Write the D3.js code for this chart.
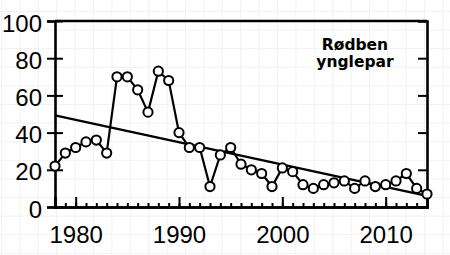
<!DOCTYPE html>
<html>
<head>
<meta charset="utf-8">
<script src="https://cdn.jsdelivr.net/npm/d3@7"></script>
<style>
  body { margin: 0; background: #fff; }
  svg { display: block; }
  .tick text { font-family: "Liberation Sans", Arial, sans-serif; font-size: 24px; fill: #000; }
</style>
</head>
<body>
<div id="chart"></div>
<script>
    // rødben ynglepar per year
    var years = d3.range(1978, 2015);
    var pairs = [22, 29, 32, 35, 36, 29, 70, 70, 63, 51, 73, 68, 40, 32, 32, 11, 28, 32, 23,
                 20, 18, 11, 21, 19, 12, 10, 12, 13, 14, 10, 14, 11, 12, 14, 18, 10, 7];
    var yTicks = [0, 20, 40, 60, 80, 100];
    var xTicks = [1980, 1990, 2000, 2010];
    var legendLines = ["Rødben", "ynglepar"];

    var W = 450, H = 255;
    var m = { top: 21, right: 23, bottom: 48, left: 55 };

    var svg = d3.select("#chart").append("svg").attr("width", W).attr("height", H);

    // faint paper grid in background
    var grid = svg.append("g");
    grid.selectAll(".gx").data(d3.range(1.5, W, 18.4)).enter().append("line")
        .attr("x1", function (d) { return d; }).attr("x2", function (d) { return d; })
        .attr("y1", 0).attr("y2", H);
    grid.selectAll(".gy").data(d3.range(11.5, H, 18.6)).enter().append("line")
        .attr("y1", function (d) { return d; }).attr("y2", function (d) { return d; })
        .attr("x1", 0).attr("x2", W);
    grid.selectAll("line").attr("stroke", "#f2f2f2").attr("stroke-width", 1);

    var x = d3.scaleLinear().domain([1978, 2014]).range([m.left, W - m.right]);
    var y = d3.scaleLinear().domain([0, 100]).range([H - m.bottom, m.top]);

    // left axis, ticks crossing the line
    var gl = svg.append("g").attr("transform", "translate(" + m.left + ",0)")
        .call(d3.axisLeft(y).tickValues(yTicks).tickSize(8).tickPadding(5));
    gl.selectAll(".tick line").attr("x1", 8);
    gl.selectAll(".tick text").attr("dy", "0.42em");

    // bottom axis, inward ticks (minor every year)
    svg.append("g").attr("transform", "translate(0," + (H - m.bottom) + ")")
        .call(d3.axisBottom(x).tickValues(years).tickSize(-4).tickFormat(""));
    var gb = svg.append("g").attr("transform", "translate(0," + (H - m.bottom) + ")")
        .call(d3.axisBottom(x).tickValues(xTicks).tickSize(-10).tickFormat(d3.format("d")));
    gb.selectAll(".tick text").attr("y", 19).attr("dy", "0.71em");

    // right axis
    svg.append("g").attr("transform", "translate(" + (W - m.right) + ",0)")
        .call(d3.axisRight(y).tickValues([20, 40, 60, 80]).tickSize(-9).tickFormat(""));

    // top border
    svg.append("line").attr("x1", m.left).attr("x2", W - m.right)
        .attr("y1", m.top).attr("y2", m.top)
        .attr("stroke", "#000").attr("stroke-width", 2.6);

    svg.selectAll(".domain").attr("stroke", "#000").attr("stroke-width", 2.6);
    svg.selectAll(".tick line").attr("stroke", "#000").attr("stroke-width", 2);

    // linear trend (least squares)
    var mx = d3.mean(years), my = d3.mean(pairs);
    var sxy = d3.sum(years, function (d, i) { return (d - mx) * (pairs[i] - my); });
    var sxx = d3.sum(years, function (d) { return (d - mx) * (d - mx); });
    var slope = sxy / sxx;
    var trend = [years[0], years[years.length - 1]].map(function (d) {
        return [d, my + slope * (d - mx)];
    });
    svg.append("path").datum(trend)
        .attr("fill", "none").attr("stroke", "#000").attr("stroke-width", 2.4)
        .attr("d", d3.line().x(function (d) { return x(d[0]); }).y(function (d) { return y(d[1]); }));

    // series
    var data = years.map(function (d, i) { return { year: d, v: pairs[i] }; });
    svg.append("path").datum(data)
        .attr("fill", "none").attr("stroke", "#000").attr("stroke-width", 2.2)
        .attr("d", d3.line().x(function (d) { return x(d.year); }).y(function (d) { return y(d.v); }));
    svg.selectAll("circle").data(data).enter().append("circle")
        .attr("cx", function (d) { return x(d.year); })
        .attr("cy", function (d) { return y(d.v); })
        .attr("r", 4.6)
        .attr("fill", "#fff").attr("stroke", "#000").attr("stroke-width", 2);

    // label
    svg.append("text")
        .attr("x", 355).attr("y", 50)
        .attr("text-anchor", "middle")
        .style("font-family", "'DejaVu Sans', Verdana, sans-serif")
        .style("font-weight", "bold").style("font-size", "15.5px")
        .selectAll("tspan").data(legendLines).enter().append("tspan")
        .attr("x", 355).attr("dy", function (d, i) { return i ? 17 : 0; })
        .text(function (d) { return d; });
</script>
</body>
</html>
